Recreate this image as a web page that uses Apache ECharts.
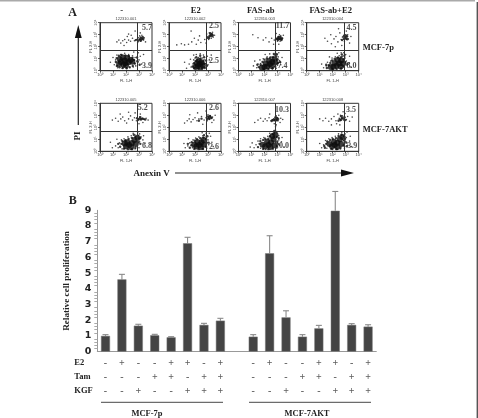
<!DOCTYPE html>
<html>
<head>
<meta charset="utf-8">
<style>html,body{margin:0;padding:0;background:#fff}#chart{width:478px;height:418px}</style>
<script src="https://cdn.jsdelivr.net/npm/echarts@6/dist/echarts.min.js"></script>
</head>
<body>
<div id="chart"></div>
<script>
// Panel B: relative proliferation bars, one empty slot between the two cell lines
const categories = ['p1','p2','p3','p4','p5','p6','p7','p8','','a1','a2','a3','a4','a5','a6','a7','a8'];
const proliferation = [1.0,4.6,1.65,1.04,0.91,6.9,1.7,1.97,null,0.95,6.26,2.18,0.95,1.48,8.97,1.7,1.59];
const errorTops = [1.08,4.92,1.74,1.1,0.95,7.28,1.8,2.12,null,1.08,7.38,2.6,1.08,1.67,10.2,1.78,1.71];
const e2Signs  = ['-','+','-','-','+','+','-','+','','-','+','-','-','+','+','-','+'];
const tamSigns = ['-','-','-','+','+','-','+','+','','-','-','-','+','+','-','+','+'];
const kgfSigns = ['-','-','+','-','-','+','+','+','','-','-','+','-','-','+','+','+'];
const yTicks = ['0','1','2','3','4','5','6','7','8','9'];

// Panel A: dot plots, coordinates in log10 decades of FL1-H / FL2-H
const decadeLabels = ['10⁰','10¹','10²','10³','10⁴'];
const panelIds = ['122310.001','122310.002','122310.003','122310.004','122310.005','122310.006','122310.007','122310.008'];
const apoptoticUpper = ['5.7','2.5','11.7','4.5','5.2','2.6','10.3','3.5'];
const apoptoticLower = ['3.9','2.5','7.4','8.0','6.8','2.6','10.0','3.9'];
const upperSpots = [[3.62,3.55],[3.47,3.77],[3.39,3.77],[3.44,3.6],[3.29,3.64],[3.46,3.64],[3.34,3.44],[3.41,3.44]];
const lowerSpots = [[3.62,0.37],[3.47,0.82],[3.39,0.37],[3.44,0.39],[3.62,0.42],[3.46,0.39],[3.34,0.44],[3.5,0.44]];
const gateX = [2.85,2.87,2.86,2.86,2.86,2.87,2.86,2.86];
const gateY = [1.67,1.67,1.67,1.67,1.67,1.67,1.67,1.67];

// Densest part of each population
const core1 = [[1.9,.85],[1.6,.72],[2.2,.7],[1.52,.95],[1.8,.5],[2.1,1.05],[2.35,.9],[1.75,1.1],[2.0,.45],[1.47,.55],[2.48,.75],[1.95,.65]];
const core2 = [[2.37,.55],[2.2,.4],[2.5,.7],[2.05,.3],[2.3,.8],[2.6,.45],[2.15,.6],[2.45,.3]];
const core3 = [[2.43,.55],[2.2,.35],[2.6,.75],[2.0,.3],[2.75,.95],[2.35,.8],[2.55,.4],[2.1,.6],[2.85,.7],[1.8,.25]];
const core4 = [[2.3,.42],[2.05,.33],[2.5,.6],[2.15,.65],[2.65,.85],[2.4,.9],[1.85,.3],[2.6,.35],[2.8,.6]];
const core5 = [[2.24,.53],[2.0,.42],[2.45,.7],[2.1,.75],[2.65,.95],[2.4,.35],[2.75,.6],[1.9,.65],[2.9,1.1]];
const core6 = [[2.32,.53],[2.1,.4],[2.5,.75],[2.2,.75],[2.65,.95],[2.45,.35],[1.95,.55],[2.7,.55]];
const core7 = [[2.3,.53],[2.05,.4],[2.5,.75],[2.2,.8],[2.7,1.0],[2.45,.35],[1.85,.55],[2.75,.5],[2.85,1.35],[2.6,1.25]];
const core8 = [[2.16,.53],[1.95,.42],[2.35,.72],[2.1,.8],[2.55,1.0],[2.35,.35],[1.75,.6],[2.65,.6],[2.75,1.2]];

// Medium-density ring around each population, plus the tight upper cluster
const halo1 = [[1.22,.72],[1.28,1.05],[1.3,.4],[1.45,1.25],[1.65,1.32],[1.95,1.28],[2.22,1.22],[2.5,1.08],[2.62,.9],[2.68,.6],[2.52,.4],[2.28,.3],[2.05,.2],[1.75,.22],[1.5,.28],[2.9,.75],[2.85,1.1],[3.05,.5],
[3.05,2.6],[3.12,2.72],[3.2,2.62],[3.27,2.78],[3.15,2.52],[3.33,2.66],[2.95,2.5],[2.75,2.55]];
const halo2 = [[1.82,.35],[1.92,.62],[1.95,.22],[2.05,.82],[2.18,.92],[2.42,1.02],[2.62,.78],[2.72,.58],[2.75,.22],[2.55,.18],[2.28,.15],[2.85,.85],[2.7,1.12],[2.4,1.25],[2.1,1.12],[2.92,.42],
[3.12,2.9],[3.2,3.0],[3.28,2.88],[3.18,3.12],[3.3,3.05],[3.08,2.72],[3.36,2.95],[2.95,2.75]];
const halo3 = [[1.55,.3],[1.7,.5],[1.85,.72],[2.0,.92],[2.18,1.02],[2.42,1.08],[2.65,1.12],[2.88,1.18],[3.0,.95],[3.02,.62],[2.82,.35],[2.62,.2],[2.3,.15],[1.95,.12],[2.95,1.35],[2.72,1.4],[3.2,.72],[1.45,.5],
[2.95,2.65],[3.03,2.72],[3.1,2.62],[3.18,2.68],[3.26,2.62],[3.33,2.7],[3.1,2.82],[3.22,2.82],[3.02,2.55],[3.3,2.55]];
const halo4 = [[1.55,.22],[1.7,.45],[1.82,.65],[1.95,.85],[2.15,.98],[2.4,1.1],[2.65,1.12],[2.85,.95],[2.95,.7],[2.85,.35],[2.65,.18],[2.3,.15],[2.0,.12],[2.9,1.25],[2.7,1.35],[3.12,.55],[1.5,.5],
[2.85,2.65],[2.95,2.78],[3.02,2.68],[3.1,2.88],[3.0,2.95],[2.85,2.85],[3.12,2.62],[2.72,2.55]];
const halo5 = [[1.55,.38],[1.65,.62],[1.72,.85],[1.95,.92],[2.2,1.02],[2.45,1.12],[2.72,1.22],[2.9,1.32],[2.98,1.08],[2.95,.75],[2.72,.3],[2.45,.18],[2.15,.18],[1.85,.22],[3.1,.62],[3.1,1.1],[1.4,.62],[2.6,1.38],
[2.95,2.62],[3.05,2.72],[3.15,2.68],[3.25,2.72],[3.35,2.7],[3.1,2.85],[2.85,2.75],[3.48,2.65]];
const halo6 = [[1.6,.3],[1.72,.5],[1.75,.75],[1.98,.88],[2.15,1.0],[2.4,1.1],[2.65,1.15],[2.85,1.02],[2.9,.72],[2.85,.38],[2.6,.2],[2.28,.18],[1.95,.2],[3.05,.72],[2.95,1.25],[2.7,1.35],[1.45,.62],
[2.95,2.7],[3.05,2.78],[3.12,2.72],[3.2,2.85],[3.28,2.78],[3.15,2.95],[3.0,2.9],[2.3,2.55],[2.5,2.72]];
const halo7 = [[1.5,.35],[1.62,.62],[1.68,.85],[1.9,.95],[2.05,1.05],[2.3,1.05],[2.42,1.25],[2.62,1.45],[2.8,1.55],[2.92,1.2],[2.98,.82],[2.95,.42],[2.65,.22],[2.3,.18],[1.9,.2],[3.1,1.1],[2.75,1.7],[3.08,.6],
[2.62,2.6],[2.72,2.68],[2.8,2.58],[2.88,2.66],[2.96,2.58],[3.05,2.7],[2.85,2.85],[2.95,2.78],[2.55,2.52]];
const halo8 = [[1.4,.3],[1.5,.62],[1.58,.82],[1.8,.95],[2.0,1.02],[2.25,1.1],[2.45,1.28],[2.68,1.38],[2.88,1.25],[2.9,.9],[2.85,.48],[2.6,.3],[2.3,.18],[1.9,.2],[3.05,.72],[1.35,.45],[2.95,1.05],[3.08,.42],
[2.55,2.65],[2.65,2.62],[2.72,2.78],[2.82,2.72],[2.9,2.85],[2.65,2.92],[2.45,2.55],[2.98,2.6]];

// Individual sparse events
const dots1 = [[1.2,.9],[1.1,.5],[1.3,1.3],[1.35,.25],[1.6,1.35],[1.9,1.45],[2.2,1.35],[2.5,1.25],[2.7,1.1],[2.8,.8],[2.75,.4],[2.55,.3],[2.3,.25],[2.05,.2],[1.7,.2],[3.0,.9],[3.1,1.2],[3.2,.55],[3.35,1.35],[2.95,1.5],[2.6,1.55],[1.0,1.1],[.8,.7],
[1.3,2.4],[1.45,2.55],[1.6,2.3],[1.75,2.5],[1.9,2.6],[2.05,2.35],[2.2,2.55],[2.35,2.45],[2.5,2.7],[2.65,2.5],[2.8,2.6],[2.95,2.75],[3.05,2.6],[3.15,2.8],[3.25,2.65],[3.3,2.85],[3.12,2.45],[3.22,2.95],[3.35,2.55],[3.4,2.75],[3.05,2.9],[2.9,2.35],[2.4,2.95],[2.1,2.85],[1.85,2.1],[3.5,2.4],[3.1,3.15],[2.7,3.3],[2.2,3.05]];
const dots2 = [[1.7,.3],[1.85,.55],[1.9,.9],[2.0,1.05],[2.25,1.1],[2.55,1.05],[2.7,.9],[2.75,.3],[2.8,.6],[1.55,.55],[1.35,.2],[1.65,.95],[2.1,1.35],[2.4,1.4],[2.65,1.3],[2.95,1.2],[3.1,.9],[3.0,.5],[3.25,1.3],[1.2,.7],[1.9,1.3],
[.6,2.15],[.95,2.25],[1.2,2.15],[1.5,2.2],[1.75,2.4],[1.95,2.7],[2.1,2.2],[2.25,2.55],[2.45,2.35],[2.75,2.6],[2.9,3.05],[3.0,2.85],[3.1,3.15],[3.2,2.95],[3.3,3.05],[3.4,2.8],[3.25,2.7],[3.15,2.85],[3.35,3.2],[3.05,2.6],[2.85,2.3],[1.7,3.3],[3.5,2.95],[2.35,2.9]];
const dots3 = [[1.4,.25],[1.5,.55],[1.7,.6],[1.65,.9],[1.9,1.0],[2.2,1.15],[2.5,1.15],[2.75,1.3],[2.95,1.4],[3.05,1.15],[3.15,.85],[3.0,.45],[3.25,.5],[2.9,.2],[2.6,.15],[3.1,1.5],[2.85,1.55],[2.4,1.4],[1.25,.8],[1.15,.4],[3.35,1.1],[2.05,1.35],
[1.1,3.0],[1.5,2.75],[1.9,2.55],[2.1,2.75],[2.35,2.4],[2.55,2.7],[2.75,2.55],[2.85,2.65],[2.95,2.7],[3.0,2.6],[3.1,2.7],[3.15,2.62],[3.2,2.72],[3.28,2.66],[3.35,2.6],[3.4,2.7],[3.05,2.85],[3.15,3.0],[3.25,2.9],[3.0,2.45],[3.2,2.45],[2.9,3.1],[3.45,2.95],[3.1,2.2],[2.7,2.2]];
const dots4 = [[1.3,.25],[1.5,.4],[1.6,.7],[1.85,.8],[1.95,1.05],[2.2,1.15],[2.5,1.25],[2.75,1.2],[2.95,1.05],[3.05,.8],[3.1,.45],[2.9,.25],[3.25,.65],[2.65,1.5],[2.85,1.5],[3.0,1.35],[1.75,1.15],[1.15,.55],[3.3,1.2],[2.35,1.45],[3.4,.3],[2.0,.15],
[1.4,2.7],[1.6,2.45],[1.85,3.0],[1.9,2.25],[2.1,2.65],[2.25,2.85],[2.4,2.4],[2.55,3.15],[2.65,2.6],[2.75,2.8],[2.85,2.95],[2.95,2.7],[3.0,2.85],[3.05,2.6],[3.1,2.8],[3.15,3.0],[3.2,2.65],[2.9,2.45],[3.3,2.3],[3.4,2.85],[2.7,2.1],[3.05,3.3],[2.2,2.0],[2.45,3.5]];
const dots5 = [[1.2,.45],[1.4,.3],[1.5,.7],[1.65,.95],[1.85,1.05],[2.15,1.2],[2.4,1.3],[2.7,1.35],[3.05,1.45],[3.15,1.2],[3.05,.8],[3.3,.95],[3.0,.3],[2.7,.2],[1.7,.2],[.95,.3],[3.45,.65],[2.9,1.55],[2.55,1.5],[1.3,1.0],[3.35,1.3],[.8,.75],
[.95,2.6],[1.2,2.75],[1.4,2.5],[1.6,2.7],[1.75,2.85],[1.9,2.55],[2.05,2.35],[2.2,2.7],[2.35,2.95],[2.5,2.6],[2.65,2.8],[2.8,2.55],[2.95,2.7],[3.05,2.85],[3.15,2.6],[3.25,2.75],[3.4,2.65],[3.55,2.75],[3.7,2.6],[3.1,3.1],[2.7,3.2],[2.2,3.25],[3.3,2.4],[1.55,3.1],[3.0,2.3]];
const dots6 = [[1.25,.3],[1.45,.45],[1.6,.7],[1.8,.3],[1.85,.95],[2.05,1.1],[2.3,1.2],[2.6,1.3],[2.85,1.2],[3.0,.95],[3.05,.55],[3.2,1.25],[2.9,.25],[2.65,.2],[3.3,.75],[2.85,1.5],[2.55,1.55],[1.15,.65],[3.1,1.5],[1.5,1.05],[3.4,.4],
[1.2,2.35],[1.4,2.55],[1.55,2.7],[1.7,2.45],[1.85,2.65],[2.0,2.8],[2.15,2.55],[2.3,2.7],[2.5,2.9],[2.7,2.6],[2.85,2.8],[2.95,2.55],[3.05,2.85],[3.1,2.65],[3.18,2.95],[3.25,2.75],[3.35,2.85],[3.45,2.6],[3.0,3.05],[2.2,3.2],[1.6,3.05],[3.3,2.4],[2.6,2.25],[3.55,3.0],[2.85,3.35]];
const dots7 = [[1.2,.3],[1.35,.55],[1.5,.85],[1.7,.25],[1.7,1.05],[1.95,1.15],[2.25,1.25],[2.4,1.5],[2.7,1.6],[2.95,1.55],[3.1,1.3],[3.1,.95],[3.15,.5],[2.95,.25],[3.3,.8],[3.35,1.15],[1.05,.7],[2.85,1.75],[3.0,.7],[2.1,.15],[.9,.35],[3.5,.35],
[1.25,2.4],[1.5,2.6],[1.7,2.75],[1.9,2.5],[2.05,2.7],[2.2,2.55],[2.35,2.8],[2.5,2.55],[2.6,2.62],[2.7,2.55],[2.78,2.6],[2.86,2.55],[2.95,2.62],[3.05,2.55],[2.8,2.8],[2.9,2.95],[3.0,2.8],[3.1,3.0],[3.25,2.75],[3.4,2.65],[2.75,2.3],[2.9,2.2],[2.4,3.1],[3.2,2.4],[2.85,2.05]];
const dots8 = [[1.15,.3],[1.3,.55],[1.45,.9],[1.55,.25],[1.7,1.05],[1.95,1.15],[2.2,1.25],[2.45,1.45],[2.7,1.55],[2.95,1.45],[3.05,1.15],[3.0,.8],[3.15,.5],[2.9,.25],[3.3,.85],[3.35,1.25],[1.0,.65],[2.85,.9],[2.6,.2],[2.0,.15],[3.45,.4],[3.1,1.6],
[1.0,2.7],[1.25,2.55],[1.45,2.75],[1.7,2.5],[1.9,2.7],[2.1,2.9],[2.25,2.55],[2.4,3.1],[2.5,2.75],[2.6,2.55],[2.68,2.75],[2.75,2.95],[2.85,2.6],[2.95,2.8],[3.05,2.65],[3.15,2.9],[2.6,3.0],[2.3,2.3],[2.8,3.3],[3.3,2.5],[2.95,3.15],[1.9,2.2],[3.5,2.85],[2.55,2.2]];
const coreSets = [core1,core2,core3,core4,core5,core6,core7,core8];
const haloSets = [halo1,halo2,halo3,halo4,halo5,halo6,halo7,halo8];
const dotSets = [dots1,dots2,dots3,dots4,dots5,dots6,dots7,dots8];

const serif = '"Liberation Serif"';
const panelLefts = [100,169,238.5,306.7];
const panelTops = [22.7,103.3];
const columnTitles = [['-',121.7],['E2',195.7],['FAS-ab',260.7],['FAS-ab+E2',330.7]];
const ink = '#2a2a2a';

const grids = [], xAxes = [], yAxes = [], series = [];

// One small dot plot with its gate lines and quadrant percentages
function addPanel(i) {
  const col = i % 4, row = i < 4 ? 0 : 1;
  grids.push({left: panelLefts[col], top: panelTops[row], width: 52, height: 48, show: true,
    borderColor: '#333', borderWidth: 1, backgroundColor: '#fff'});
  const tiny = {fontFamily: '"Liberation Sans"', fontSize: 4, color: '#444'};
  xAxes.push({gridIndex: i, type: 'value', min: 0, max: 4, interval: 1, splitLine: {show: false},
    axisLine: {show: true, onZero: false, lineStyle: {color: '#333', width: 1}},
    axisTick: {length: 2, lineStyle: {color: '#333', width: 0.8}},
    axisLabel: Object.assign({margin: 2, formatter: v => decadeLabels[v]}, tiny),
    name: 'FL 1-H', nameLocation: 'middle', nameGap: 8, nameTextStyle: tiny});
  yAxes.push({gridIndex: i, type: 'value', min: 0, max: 4, interval: 1, splitLine: {show: false},
    axisLine: {show: true, onZero: false, lineStyle: {color: '#333', width: 1}},
    axisTick: {length: 2, lineStyle: {color: '#333', width: 0.8}},
    axisLabel: Object.assign({margin: 2, rotate: 90, formatter: v => decadeLabels[v]}, tiny),
    name: 'FL 2-H', nameLocation: 'middle', nameGap: 7, nameTextStyle: tiny});
  series.push({type: 'scatter', xAxisIndex: i, yAxisIndex: i, data: dotSets[i], symbolSize: 1.6,
    itemStyle: {color: ink, opacity: 0.85}, silent: true, z: 3,
    markLine: {silent: true, symbol: 'none', animation: false, label: {show: false},
      lineStyle: {color: '#333', width: 1, type: 'solid'},
      data: [{xAxis: gateX[i]}, {yAxis: gateY[i]}]}});
  series.push({type: 'scatter', xAxisIndex: i, yAxisIndex: i, data: haloSets[i], symbolSize: 2.4,
    itemStyle: {color: '#1a1a1a', opacity: 0.85}, silent: true, z: 3});
  series.push({type: 'scatter', xAxisIndex: i, yAxisIndex: i, data: coreSets[i], symbolSize: 6,
    itemStyle: {color: '#0d0d0d'}, silent: true, z: 3});
  series.push({type: 'scatter', xAxisIndex: i, yAxisIndex: i, symbolSize: 1, silent: true, z: 6,
    itemStyle: {color: 'transparent'},
    data: [{value: upperSpots[i], name: apoptoticUpper[i]}, {value: lowerSpots[i], name: apoptoticLower[i]}],
    label: {show: true, position: 'inside', formatter: p => p.name, fontFamily: serif, fontWeight: 'bold', fontSize: 8, color: '#222'}});
}
for (let i = 0; i < 8; i++) addPanel(i);

// Bar chart grid
grids.push({left: 97.3, top: 210.3, width: 279, height: 141.3});
xAxes.push({gridIndex: 8, type: 'category', data: categories,
  axisLine: {lineStyle: {color: '#999', width: 1}}, axisTick: {length: 3, lineStyle: {color: '#999'}},
  axisLabel: {show: false}});
yAxes.push({gridIndex: 8, type: 'value', min: 0, max: 9, interval: 1, splitLine: {show: false},
  axisLine: {show: true, lineStyle: {color: '#999', width: 1}},
  axisTick: {length: 5, lineStyle: {color: '#999'}},
  minorTick: {show: true, splitNumber: 5, length: 3, lineStyle: {color: '#aaa'}},
  axisLabel: {margin: 6, formatter: v => yTicks[v], fontFamily: '"DejaVu Sans"', fontWeight: 'bold', fontSize: 9.5, color: '#222'},
  name: 'Relative cell proliferation', nameLocation: 'middle', nameGap: 26,
  nameTextStyle: {fontFamily: serif, fontWeight: 'bold', fontSize: 9.2, color: '#222'}});
series.push({type: 'bar', xAxisIndex: 8, yAxisIndex: 8, data: proliferation, barWidth: 9, silent: true,
  itemStyle: {color: '#444', borderColor: '#777', borderWidth: 0.5}});
series.push({type: 'custom', xAxisIndex: 8, yAxisIndex: 8, silent: true, z: 1, clip: false,
  data: categories.map((c, i) => [i, proliferation[i], errorTops[i]]),
  renderItem(params, api) {
    if (api.value(2) == null || isNaN(api.value(2))) return null;
    const base = api.coord([api.value(0), api.value(1)]);
    const top = api.coord([api.value(0), api.value(2)]);
    const style = {stroke: '#8a8a8a', lineWidth: 1.1};
    return {type: 'group', children: [
      {type: 'line', shape: {x1: base[0], y1: base[1], x2: top[0], y2: top[1]}, style},
      {type: 'line', shape: {x1: top[0] - 3, y1: top[1], x2: top[0] + 3, y2: top[1]}, style}
    ]};
  }});

// Treatment table under the bars, aligned to the same categories
const rowNames = ['E2', 'Tam', 'KGF'];
grids.push({left: 97.3, top: 356, width: 279, height: 42});
xAxes.push({gridIndex: 9, type: 'category', data: categories, axisLine: {show: false}, axisTick: {show: false}, axisLabel: {show: false}});
yAxes.push({gridIndex: 9, type: 'category', data: rowNames, inverse: true, axisLine: {show: false}, axisTick: {show: false},
  axisLabel: {margin: 23, align: 'left', fontFamily: serif, fontWeight: 'bold', fontSize: 8.5, color: '#222'}});
[e2Signs, tamSigns, kgfSigns].forEach((signs, r) => {
  series.push({type: 'scatter', xAxisIndex: 9, yAxisIndex: 9, symbolSize: 1, silent: true, itemStyle: {color: 'transparent'},
    data: signs.map((s, i) => ({value: [i, rowNames[r]], name: s})).filter(d => d.name),
    label: {show: true, position: 'inside', formatter: p => p.name, fontFamily: serif, fontWeight: 'bold', fontSize: 10, color: '#333'}});
});

// Free text and annotation strokes
function txt(x, y, text, size, extra) {
  return Object.assign({type: 'text', x, y, silent: true,
    style: {text, font: 'bold ' + size + 'px ' + serif, fill: '#222', textAlign: 'center', textVerticalAlign: 'middle'}}, extra || {});
}
function stroke(x1, y1, x2, y2, width, color) {
  return {type: 'line', silent: true, shape: {x1, y1, x2, y2}, style: {stroke: color, lineWidth: width}};
}
const graphics = [
  stroke(0, 0.8, 475, 0.8, 1.6, '#aaa'),
  stroke(477.3, 2, 477.3, 418, 1.4, '#555'),
  txt(72.7, 13, 'A', 12),
  txt(72.7, 200.7, 'B', 12),
  stroke(78.3, 36, 78.3, 125, 1.2, '#222'),
  {type: 'polygon', silent: true, shape: {points: [[78.3, 25], [74.9, 38], [81.7, 38]]}, style: {fill: '#111'}},
  stroke(175, 173, 343, 173, 1.2, '#222'),
  {type: 'polygon', silent: true, shape: {points: [[354, 173], [341, 169.5], [341, 176.5]]}, style: {fill: '#111'}},
  txt(78, 136, 'PI', 9, {rotation: Math.PI / 2}),
  txt(151.7, 173.3, 'Anexin V', 9),
  txt(362.7, 48, 'MCF-7p', 8.5),
  txt(362.7, 130, 'MCF-7AKT', 8.5),
  stroke(101, 402.3, 223, 402.3, 0.9, '#333'),
  stroke(249, 402.3, 371, 402.3, 0.9, '#333'),
  txt(147, 413.5, 'MCF-7p', 8.5),
  txt(307, 413.5, 'MCF-7AKT', 8.5)
];
graphics[10].style.textAlign = 'left';
graphics[11].style.textAlign = 'left';
columnTitles.forEach(t => graphics.push(txt(t[1], 11, t[0], 8.6)));
panelIds.forEach((id, i) => {
  const cx = panelLefts[i % 4] + 26, cy = panelTops[i < 4 ? 0 : 1] - 3.5;
  graphics.push({type: 'text', x: cx, y: cy, silent: true,
    style: {text: id, font: '4px "Liberation Sans"', fill: '#444', textAlign: 'center', textVerticalAlign: 'middle'}});
});

const chart = echarts.init(document.getElementById('chart'), null, {renderer: 'canvas'});
chart.setOption({animation: false, backgroundColor: '#fff', grid: grids, xAxis: xAxes, yAxis: yAxes, series, graphic: graphics});
</script>
</body>
</html>
